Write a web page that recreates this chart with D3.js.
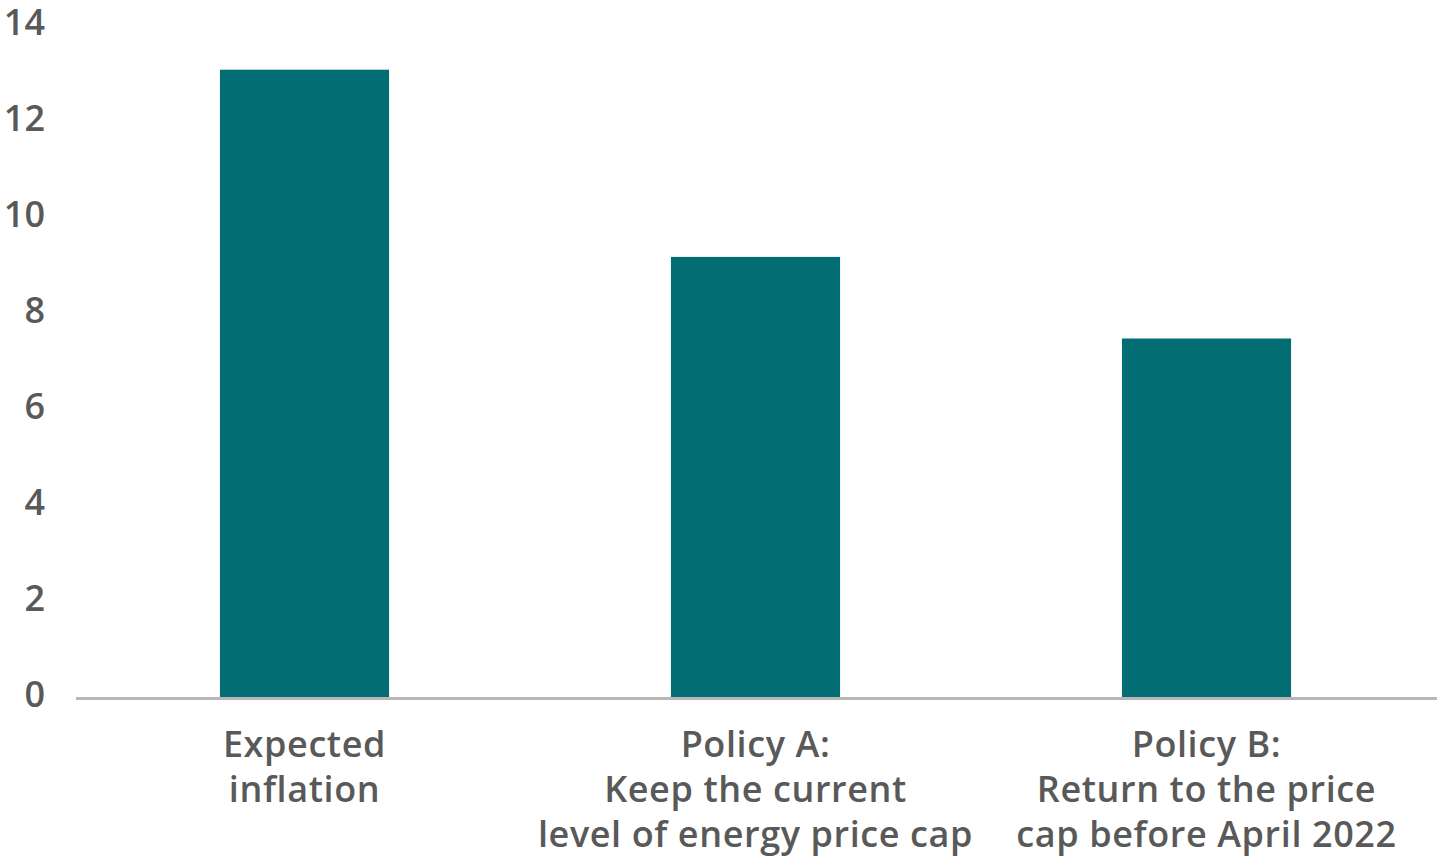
<!DOCTYPE html>
<html>
<head>
<meta charset="utf-8">
<script src="https://cdn.jsdelivr.net/npm/d3@7"></script>
<style>
  body { margin: 0; background: #fff; }
  svg text { font-family: "Open Sans", sans-serif; font-weight: 600; fill: #595959; }
</style>
</head>
<body>
<div id="chart"></div>
<script>
// chart data
var categories = ["Expected inflation", "Policy A", "Policy B"];
var categoryLines = [
    ["Expected", "inflation"],
    ["Policy A:", "Keep the current", "level of energy price cap"],
    ["Policy B:", "Return to the price", "cap before April 2022"]
];
var values = [13.1, 9.2, 7.5];
var yTicks = [0, 2, 4, 6, 8, 10, 12, 14];

var width = 1437, height = 858;

var svg = d3.select("#chart")
    .append("svg")
    .attr("width", width)
    .attr("height", height);

// scales
var x = d3.scaleBand()
    .domain(categories)
    .range([79, 1432])
    .paddingInner(0.625)
    .paddingOuter(0.3125);

var y = d3.scaleLinear()
    .domain([0, 14])
    .range([698.5, 26.5]);

// y tick labels
svg.append("g")
    .selectAll("text")
    .data(yTicks)
    .enter()
    .append("text")
    .attr("x", 45)
    .attr("y", function (d) { return y(d) + 8; })
    .attr("text-anchor", "end")
    .style("font-size", "36px")
    .text(function (d) { return d; });

// bars
svg.append("g")
    .selectAll("rect")
    .data(values)
    .enter()
    .append("rect")
    .attr("x", function (d, i) { return x(categories[i]); })
    .attr("y", function (d) { return y(d); })
    .attr("width", x.bandwidth())
    .attr("height", function (d) { return y(0) - y(d); })
    .attr("fill", "#026e74");

// baseline
svg.append("line")
    .attr("x1", 76)
    .attr("x2", width)
    .attr("y1", y(0))
    .attr("y2", y(0))
    .attr("stroke", "#bab6b6")
    .attr("stroke-width", 3);

// category labels
var labels = svg.append("g")
    .selectAll("text")
    .data(categories)
    .enter()
    .append("text")
    .attr("text-anchor", "middle")
    .style("font-size", "36px")
    .style("letter-spacing", "0.6px")
    .attr("transform", function (d) { return "translate(" + (x(d) + x.bandwidth() / 2) + ",757)"; });

labels.selectAll("tspan")
    .data(function (d, i) { return categoryLines[i]; })
    .enter()
    .append("tspan")
    .attr("x", 0)
    .attr("y", function (d, i) { return i * 45; })
    .text(function (d) { return d; });
</script>
</body>
</html>
